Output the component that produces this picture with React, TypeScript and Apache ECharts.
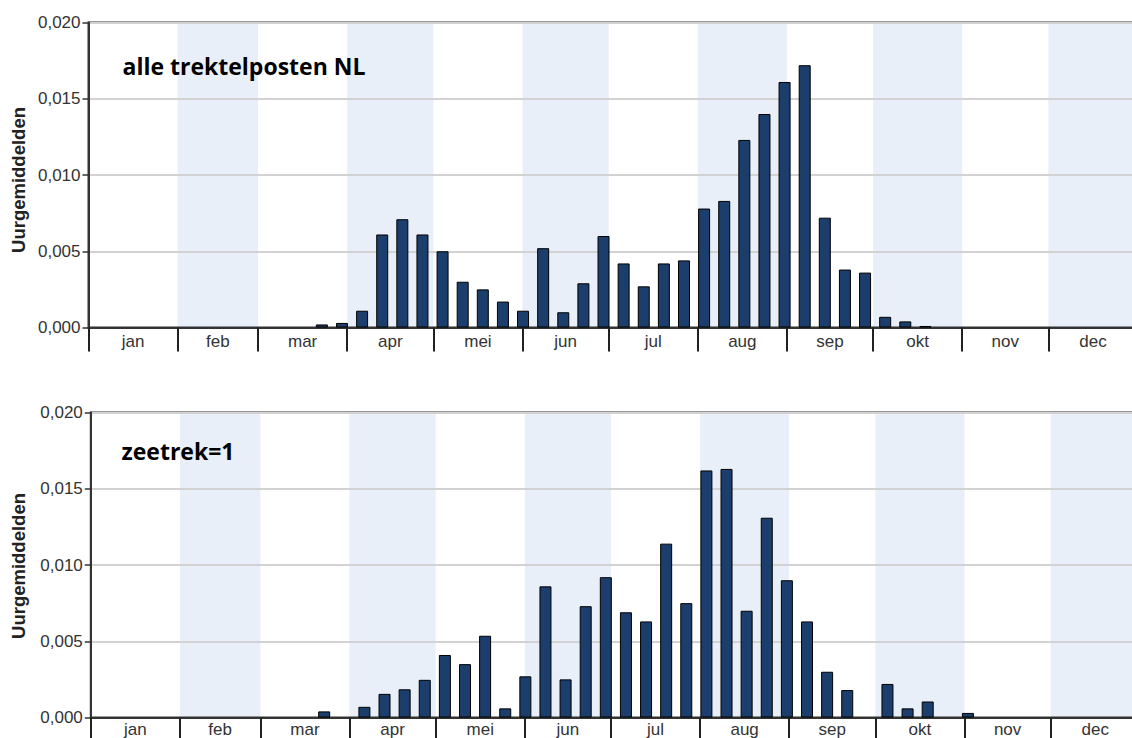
import React, { useEffect, useRef } from "react";
import * as echarts from "echarts";

const MONTHS = ["jan", "feb", "mar", "apr", "mei", "jun", "jul", "aug", "sep", "okt", "nov", "dec"];
const MONTH_STARTS = [0, 31, 59, 90, 120, 151, 181, 212, 243, 273, 304, 334, 365];
const SHADED_MONTHS = [1, 3, 5, 7, 9, 11];
const Y_TICKS = [0, 0.005, 0.01, 0.015, 0.02];

// week numbers (1-based) of the bars
const WEEKS = [12, 13, 14, 15, 16, 17, 18, 19, 20, 21, 22, 23, 24, 25, 26, 27, 28, 29, 30, 31, 32, 33, 34, 35, 36, 37, 38, 39, 40, 41, 42, 43, 44];

const ALLE_TREKTELPOSTEN = [
  0.0002, 0.0003, 0.0011, 0.0061, 0.0071, 0.0061, 0.005, 0.003, 0.0025, 0.0017, 0.0011,
  0.0052, 0.001, 0.0029, 0.006, 0.0042, 0.0027, 0.0042, 0.0044, 0.0078, 0.0083, 0.0123,
  0.014, 0.0161, 0.0172, 0.0072, 0.0038, 0.0036, 0.0007, 0.0004, 0.0001, 0, 0,
];

const ZEETREK = [
  0.0004, 0, 0.0007, 0.00155, 0.00185, 0.00247, 0.0041, 0.0035, 0.00536, 0.0006, 0.0027,
  0.0086, 0.0025, 0.0073, 0.0092, 0.0069, 0.0063, 0.0114, 0.0075, 0.0162, 0.0163, 0.007,
  0.0131, 0.009, 0.0063, 0.003, 0.0018, 0, 0.0022, 0.0006, 0.00105, 0, 0.0003,
];

const PANEL_TITLES = ["alle trektelposten NL", "zeetrek=1"];
const Y_NAME = "Uurgemiddelden";

const FONT = "'Liberation Sans', Arial, sans-serif";

const weekCenterDay = (w: number) => 7 * w - 2.8;
const monthMids = MONTHS.map((_, i) => (MONTH_STARTS[i] + MONTH_STARTS[i + 1]) / 2);

function buildBarData(values: number[]) {
  const out: [number, number][] = [];
  values.forEach((v, i) => {
    if (v > 0) out.push([weekCenterDay(WEEKS[i]), v]);
  });
  return out;
}

export default function App() {
  const ref = useRef<HTMLDivElement>(null);

  useEffect(() => {
    if (!ref.current) return;
    const chart = echarts.init(ref.current, undefined, { renderer: "svg" });

    const grids = [
      { left: 88.5, top: 22.5, width: 1049, height: 305 },
      { left: 90.8, top: 412.5, width: 1049, height: 305 },
    ];

    const xAxes = grids.map((_, gi) => ({
      type: "value",
      gridIndex: gi,
      min: 0,
      max: 365,
      z: 2,
      axisLine: { show: true, onZero: false, lineStyle: { color: "#333", width: 2 } },
      axisTick: {
        show: true,
        customValues: MONTH_STARTS,
        length: 24,
        lineStyle: { color: "#222", width: 2 },
      },
      axisLabel: {
        show: true,
        customValues: monthMids,
        margin: gi === 0 ? 5 : 3,
        fontSize: 17,
        fontFamily: FONT,
        color: "#333",
        formatter: (v: number) => {
          const idx = monthMids.findIndex((m) => Math.abs(m - v) < 0.01);
          return idx >= 0 ? MONTHS[idx] : "";
        },
      },
      splitLine: { show: false },
    }));

    const yAxes = grids.map((_, gi) => ({
      type: "value",
      gridIndex: gi,
      min: Y_TICKS[0],
      max: Y_TICKS[Y_TICKS.length - 1],
      interval: 0.005,
      z: 2,
      axisLine: { show: true, lineStyle: { color: "#333", width: 2 } },
      axisTick: { show: true, length: 6, lineStyle: { color: "#333", width: 1.5 } },
      axisLabel: {
        margin: 8,
        fontSize: 17,
        fontFamily: FONT,
        color: "#333",
        formatter: (v: number) => v.toFixed(3).replace(".", ","),
      },
      splitLine: { show: true, lineStyle: { color: "#d2d2d2", width: 2 } },
    }));

    const bandData = SHADED_MONTHS.map((m) => [
      { xAxis: MONTH_STARTS[m] },
      { xAxis: MONTH_STARTS[m + 1] },
    ]);

    const seriesValues = [ALLE_TREKTELPOSTEN, ZEETREK];

    const series: any[] = [];
    seriesValues.forEach((vals, gi) => {
      series.push({
        type: "bar",
        xAxisIndex: gi,
        yAxisIndex: gi,
        data: [],
        z: 1,
        silent: true,
        markArea: {
          silent: true,
          z: 1,
          itemStyle: { color: "#e9eff8" },
          data: bandData,
        },
      });
      series.push({
        type: "bar",
        xAxisIndex: gi,
        yAxisIndex: gi,
        data: buildBarData(vals),
        barWidth: 12,
        z: 3,
        itemStyle: { color: "#1c3e6c", borderColor: "#000", borderWidth: 1 },
      });
    });

    const titleGraphics = PANEL_TITLES.map((t, gi) => ({
      type: "text",
      x: gi === 0 ? 122.5 : 121.5,
      y: gi === 0 ? 66 : 451,
      z: 10,
      style: {
        text: t,
        font: "bold 23px 'Open Sans', sans-serif",
        fill: "#000",
        align: "left",
        verticalAlign: "middle",
      },
    }));

    const yNameGraphics = grids.map((g, gi) => ({
      type: "text",
      x: 18.5,
      y: gi === 0 ? 180 : 566,
      rotation: Math.PI / 2,
      z: 10,
      style: {
        text: Y_NAME,
        font: "bold 18.5px 'Liberation Sans', Arial, sans-serif",
        fill: "#222",
        align: "center",
        verticalAlign: "middle",
      },
    }));

    chart.setOption({
      animation: false,
      backgroundColor: "#fff",
      grid: grids.map((g) => ({
        ...g,
        show: true,
        z: 2,
        borderColor: "#333",
        borderWidth: 2,
        backgroundColor: "transparent",
        containLabel: false,
        outerBoundsMode: "none",
      })),
      xAxis: xAxes,
      yAxis: yAxes,
      series,
      graphic: [...titleGraphics, ...yNameGraphics],
    });

    return () => chart.dispose();
  }, []);

  return (
    <div
      ref={ref}
      style={{ position: "absolute", left: 0, top: 0, width: 1132, height: 738 }}
    />
  );
}
